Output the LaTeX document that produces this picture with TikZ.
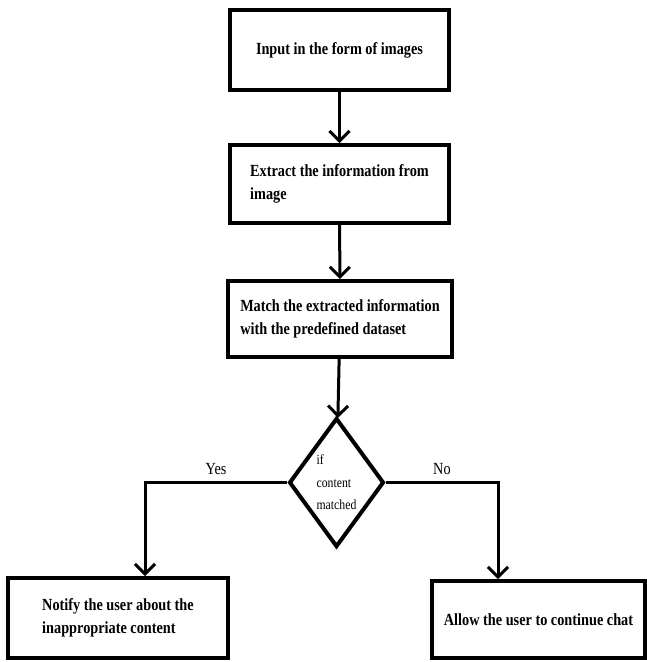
\documentclass[tikz,border=0pt]{standalone}
\usepackage{fontspec}
\setmainfont{Liberation Serif}[FakeStretch=0.84]
\usetikzlibrary{shapes.geometric,arrows.meta}
\tikzstyle{every node}=[font=\fontsize{17}{23}\selectfont]
\tikzstyle{box}=[draw, line width=4pt, minimum width=219pt, minimum height=80pt, align=left, font=\fontsize{17}{23}\selectfont\bfseries]
\tikzstyle{decision}=[draw, diamond, line width=4pt, inner sep=0pt, minimum width=93pt, minimum height=129pt, align=left, font=\fontsize{14}{22.5}\selectfont]
\tikzstyle{arr}=[-{Straight Barb[length=10pt,width=20pt]}]

\begin{document}
\begin{tikzpicture}[x=1pt, y=-1pt, line width=3pt]
\useasboundingbox (0,0) rectangle (647,662);
% Steps
    \node[box] (input) at (339.5,50) {Input in the form of images};
    \node[box, minimum height=78pt] (extract) at (339.5,184) {Extract the information from\\image};
    \node[box, minimum width=224pt, minimum height=76pt] (match) at (340,319) {Match the extracted information\\with the predefined dataset};
%Decision
    \node[decision] (cond) at (336.5,482.5) {if\\content\\matched};
%Outcomes
    \node[box, minimum width=220pt] (notify) at (118,618) {Notify the user about the\\inappropriate content};
    \node[box, minimum width=213pt, minimum height=77pt] (allow) at (538.5,619.5) {Allow the user to continue chat};
%Flow
    \draw[arr] (input) -- (extract);
    \draw[arr] (extract) -- (match);
    \draw[arr] (match) -- (cond);
    \draw[arr] (cond.west) -| node[pos=0.25, above=3pt] (yes) {Yes} ([xshift=27pt]notify.north);
    \draw[arr] (cond.east) -| node[pos=0.25, above=3pt] (no) {No} ([xshift=-40.5pt]allow.north);
\end{tikzpicture}
\end{document}
